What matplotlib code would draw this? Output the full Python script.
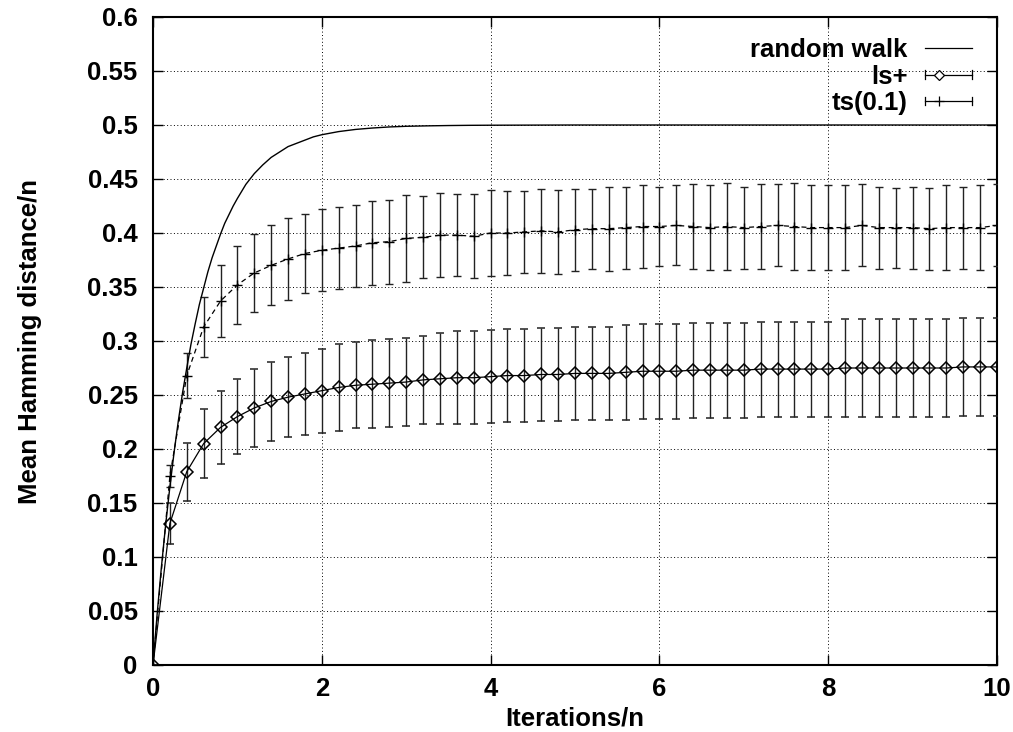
import numpy as np
import matplotlib
matplotlib.use("Agg")
import matplotlib.pyplot as plt
from matplotlib.lines import Line2D
from matplotlib.legend_handler import HandlerBase

# ---- data -------------------------------------------------------------
iters = [0.0, 0.2, 0.4, 0.6, 0.8, 1.0, 1.2, 1.4, 1.6, 1.8,
         2.0, 2.2, 2.4, 2.6, 2.8, 3.0, 3.2, 3.4, 3.6, 3.8,
         4.0, 4.2, 4.4, 4.6, 4.8, 5.0, 5.2, 5.4, 5.6, 5.8,
         6.0, 6.2, 6.4, 6.6, 6.8, 7.0, 7.2, 7.4, 7.6, 7.8,
         8.0, 8.2, 8.4, 8.6, 8.8, 9.0, 9.2, 9.4, 9.6, 9.8, 10.0]

ls_mean = [0.000, 0.131, 0.179, 0.205, 0.220, 0.230, 0.238, 0.244, 0.248, 0.251,
           0.254, 0.257, 0.259, 0.260, 0.261, 0.262, 0.264, 0.265, 0.266, 0.266,
           0.267, 0.268, 0.268, 0.269, 0.269, 0.270, 0.270, 0.270, 0.271, 0.272,
           0.272, 0.272, 0.273, 0.273, 0.273, 0.273, 0.274, 0.274, 0.274, 0.274,
           0.274, 0.275, 0.275, 0.275, 0.275, 0.275, 0.275, 0.275, 0.276, 0.276, 0.276]
ls_err = [0.000, 0.019, 0.027, 0.032, 0.034, 0.035, 0.036, 0.037, 0.037, 0.038,
          0.039, 0.040, 0.040, 0.041, 0.041, 0.041, 0.041, 0.042, 0.043, 0.043,
          0.043, 0.043, 0.043, 0.043, 0.043, 0.043, 0.043, 0.043, 0.044, 0.044,
          0.044, 0.044, 0.044, 0.044, 0.044, 0.044, 0.044, 0.044, 0.044, 0.044,
          0.044, 0.045, 0.045, 0.045, 0.045, 0.045, 0.045, 0.045, 0.045, 0.045, 0.045]

ts_mean = [0.000, 0.175, 0.268, 0.313, 0.337, 0.352, 0.363, 0.370, 0.376, 0.381,
           0.384, 0.386, 0.388, 0.391, 0.392, 0.395, 0.396, 0.398, 0.398, 0.397,
           0.400, 0.400, 0.401, 0.402, 0.401, 0.403, 0.404, 0.404, 0.405, 0.406,
           0.406, 0.407, 0.406, 0.405, 0.406, 0.405, 0.406, 0.407, 0.406, 0.405,
           0.405, 0.405, 0.407, 0.405, 0.405, 0.405, 0.404, 0.405, 0.405, 0.405, 0.407]
ts_err = [0.000, 0.010, 0.021, 0.028, 0.033, 0.036, 0.036, 0.037, 0.038, 0.037,
          0.038, 0.038, 0.038, 0.039, 0.039, 0.040, 0.038, 0.039, 0.038, 0.039,
          0.040, 0.039, 0.038, 0.039, 0.039, 0.038, 0.037, 0.039, 0.038, 0.038,
          0.037, 0.037, 0.039, 0.039, 0.040, 0.038, 0.039, 0.038, 0.040, 0.039,
          0.039, 0.039, 0.038, 0.038, 0.037, 0.038, 0.038, 0.039, 0.038, 0.039, 0.038]

rw_x = [0.0, 0.05, 0.1, 0.15, 0.2, 0.25, 0.3, 0.35, 0.4, 0.45, 0.5,
        0.55, 0.6, 0.65, 0.7, 0.75, 0.8, 0.85, 0.9, 0.95, 1.0,
        1.1, 1.2, 1.3, 1.4, 1.5, 1.6, 1.7, 1.8, 1.9, 2.0,
        2.2, 2.4, 2.6, 2.8, 3.0, 3.25, 3.5, 3.75, 4.0, 4.5, 5.0,
        6.0, 7.0, 8.0, 9.0, 10.0]
rw_y = [0.000, 0.048, 0.091, 0.130, 0.165, 0.197, 0.226, 0.252, 0.275, 0.297, 0.316,
        0.334, 0.349, 0.364, 0.377, 0.388, 0.399, 0.409, 0.417, 0.425, 0.432,
        0.445, 0.455, 0.463, 0.470, 0.475, 0.480, 0.483, 0.486, 0.489, 0.491,
        0.4939, 0.4959, 0.4972, 0.4982, 0.4988, 0.4992, 0.4995, 0.4997, 0.4998, 0.4999, 0.500,
        0.500, 0.500, 0.500, 0.500, 0.500]

x_ticks = [0, 2, 4, 6, 8, 10]
y_ticks = [0.0, 0.05, 0.1, 0.15, 0.2, 0.25, 0.3, 0.35, 0.4, 0.45, 0.5, 0.55, 0.6]
y_tick_labels = ["0", "0.05", "0.1", "0.15", "0.2", "0.25", "0.3",
                 "0.35", "0.4", "0.45", "0.5", "0.55", "0.6"]

series_labels = ["random walk", "ls+", "ts(0.1)"]
x_label = "Iterations/n"
y_label = "Mean Hamming distance/n"

# ---- style --------------------------------------------------------------
plt.rcParams["font.family"] = ["Liberation Sans", "DejaVu Sans"]
plt.rcParams["font.weight"] = "bold"
FS = 18.5

fig = plt.figure(figsize=(10.13, 7.32), dpi=100)
ax = fig.add_axes([153 / 1013, 1 - 665 / 732, (997 - 153) / 1013, (665 - 17) / 732])

ax.set_xlim(0, 10)
ax.set_ylim(0, 0.6)

# random walk reference curve
ax.plot(rw_x, rw_y, color="black", lw=1.0, zorder=4)

# ls+ : solid line, open diamonds, error bars
ax.errorbar(iters, ls_mean, yerr=ls_err, color="black", lw=0.9,
            marker="D", ms=6.3, mfc="none", mec="black", mew=1.1,
            ecolor="#222222", elinewidth=1.0, capsize=2.8, capthick=1.0, zorder=3)

# ts(0.1) : dashed line, plus markers, error bars
ax.errorbar(iters, ts_mean, yerr=ts_err, color="black", lw=0.9, ls=(0, (4, 3)),
            marker="+", ms=7, mew=1.0,
            ecolor="#222222", elinewidth=1.0, capsize=2.8, capthick=1.0, zorder=3)

# axes, ticks and grid
ax.set_xticks(x_ticks)
ax.set_yticks(y_ticks)
ax.set_yticklabels(y_tick_labels)
ax.tick_params(direction="in", length=7, width=1.0, top=True, right=True,
               labelsize=FS, pad=11)
ax.tick_params(axis="x", pad=9)
for lbl in ax.get_xticklabels() + ax.get_yticklabels():
    lbl.set_fontweight("bold")
for sp in ax.spines.values():
    sp.set_linewidth(1.5)
ax.grid(True, color="black", lw=0.7, ls=(0, (1, 2.5)))
ax.set_axisbelow(True)

ax.set_xlabel(x_label, fontsize=FS, fontweight="bold", labelpad=3.5)
ax.set_ylabel(y_label, fontsize=FS, fontweight="bold", labelpad=33)


# key entries drawn as short horizontal samples
class KeySample(HandlerBase):
    def __init__(self, marker=None, ms=5, caps=False):
        super().__init__()
        self.marker = marker
        self.ms = ms
        self.caps = caps

    def create_artists(self, legend, orig_handle, xdescent, ydescent,
                       width, height, fontsize, trans):
        x0, x1 = -xdescent, -xdescent + width
        yc = (height - ydescent) / 2
        arts = [Line2D([x0, x1], [yc, yc], color="black", lw=0.9)]
        if self.caps:
            c = 0.17 * fontsize
            arts.append(Line2D([x0, x0, np.nan, x1, x1],
                               [yc - c, yc + c, np.nan, yc - c, yc + c],
                               color="black", lw=0.9))
        if self.marker:
            arts.append(Line2D([x0 + 0.31 * (x1 - x0)], [yc], marker=self.marker,
                               ms=self.ms, mfc="white", mec="black", mew=0.9,
                               ls="none"))
        for a in arts:
            a.set_transform(trans)
        return arts


h_rw, h_ls, h_ts = Line2D([], []), Line2D([], []), Line2D([], [])
leg = ax.legend([h_rw, h_ls, h_ts], series_labels,
                handler_map={h_rw: KeySample(),
                             h_ls: KeySample(marker="D", ms=5.3, caps=True),
                             h_ts: KeySample(marker="+", ms=6.5, caps=True)},
                loc="upper right", bbox_to_anchor=(0.970, 0.967),
                frameon=False, markerfirst=False, fontsize=FS,
                handlelength=1.83, handletextpad=0.66, labelspacing=0.09,
                borderpad=0, borderaxespad=0)
for t in leg.get_texts():
    t.set_fontweight("bold")

fig.savefig("out.png", dpi=100)
